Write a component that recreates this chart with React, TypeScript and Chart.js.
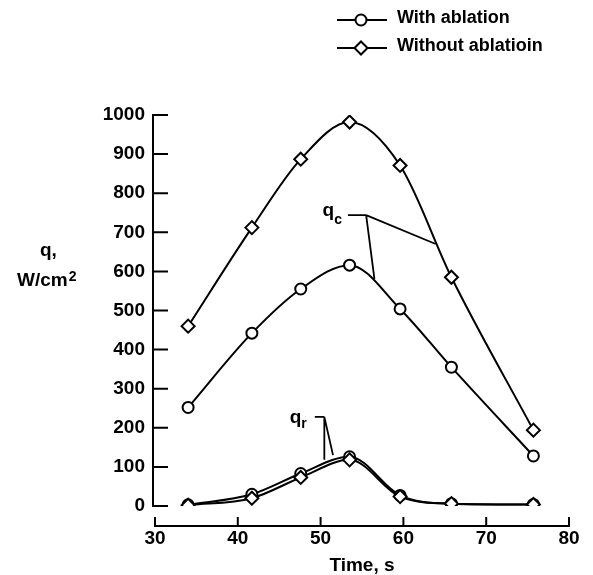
import React, { useEffect, useRef } from "react";
import { Chart, registerables } from "chart.js";

Chart.register(...registerables);

// ---- data ----
const timeS = [34, 41.7, 47.6, 53.5, 59.6, 65.8, 75.7];
const qcWithAblation = [252, 442, 555, 616, 504, 355, 128];
const qcWithoutAblation = [460, 712, 887, 982, 871, 585, 194];
const qrWithAblation = [3, 30, 83, 126, 27, 6, 4];
const qrWithoutAblation = [2, 20, 73, 118, 24, 6, 4];

const xTickValues = [30, 40, 50, 60, 70, 80];
const yTickValues = [0, 100, 200, 300, 400, 500, 600, 700, 800, 900, 1000];
const legendLabels = ["With ablation", "Without ablatioin"];
const xTitle = "Time, s";

// leader lines for the curve labels, in data coordinates
const qcLeaderStart = [53.3, 744];
const qcLeaderElbow = [55.5, 744];
const qcLeaderEnds = [[63.9, 670], [56.5, 581]];
const qrLeaderStart = [49.3, 228];
const qrLeaderElbow = [50.45, 228];
const qrLeaderEnds = [[50.45, 118], [51.5, 130]];

const FONT = "'Liberation Sans', Arial, Helvetica, sans-serif";

function pts(ys: number[]) {
  return ys.map((y, i) => ({ x: timeS[i], y }));
}

function ds(label: string, ys: number[], style: "circle" | "rectRot") {
  return {
    label,
    data: pts(ys),
    borderColor: "#000",
    borderWidth: 2,
    backgroundColor: "#fff",
    pointStyle: style,
    pointRadius: style === "circle" ? 5.5 : 6.5,
    pointBorderWidth: 2,
    pointBackgroundColor: "#fff",
    pointBorderColor: "#000",
    cubicInterpolationMode: "monotone" as const,
    fill: false,
  };
}

function drawMarker(ctx: CanvasRenderingContext2D, style: string, x: number, y: number) {
  ctx.save();
  ctx.lineWidth = 2;
  ctx.strokeStyle = "#000";
  ctx.fillStyle = "#fff";
  ctx.beginPath();
  if (style === "circle") {
    ctx.arc(x, y, 5.5, 0, Math.PI * 2);
  } else {
    const r = 6.5;
    ctx.moveTo(x - r, y);
    ctx.lineTo(x, y - r);
    ctx.lineTo(x + r, y);
    ctx.lineTo(x, y + r);
    ctx.closePath();
  }
  ctx.fill();
  ctx.stroke();
  ctx.restore();
}

function drawSubLabel(
  ctx: CanvasRenderingContext2D,
  rightX: number,
  baseY: number,
  main: string,
  sub: string,
  subDy: number
) {
  ctx.save();
  ctx.fillStyle = "#000";
  ctx.textBaseline = "alphabetic";
  ctx.textAlign = "left";
  ctx.font = `bold 19px ${FONT}`;
  const wMain = ctx.measureText(main).width;
  ctx.font = `bold 14px ${FONT}`;
  const wSub = ctx.measureText(sub).width;
  const left = rightX - wMain - wSub;
  ctx.font = `bold 19px ${FONT}`;
  ctx.fillText(main, left, baseY);
  ctx.font = `bold 14px ${FONT}`;
  ctx.fillText(sub, left + wMain, baseY + subDy);
  ctx.restore();
}

const overlayPlugin = {
  id: "overlay",
  afterDraw(chart: any) {
    const ctx: CanvasRenderingContext2D = chart.ctx;
    const xs = chart.scales.x;
    const ys = chart.scales.y;
    const px = (v: number) => xs.getPixelForValue(v);
    const py = (v: number) => ys.getPixelForValue(v);

    ctx.save();
    ctx.strokeStyle = "#000";
    ctx.lineWidth = 2;
    ctx.lineCap = "butt";

    // y axis (detached), ticks pointing inward
    const yAxisX = px(30) - 2;
    ctx.beginPath();
    ctx.moveTo(yAxisX, py(0) + 1);
    ctx.lineTo(yAxisX, py(1000) - 1);
    for (const v of yTickValues) {
      ctx.moveTo(yAxisX, py(v));
      ctx.lineTo(yAxisX + 15, py(v));
    }
    ctx.stroke();

    // x axis (detached below the plot), ticks pointing up
    const xAxisY = py(0) + 20;
    ctx.beginPath();
    ctx.moveTo(px(30) - 1, xAxisY);
    ctx.lineTo(px(80) + 1, xAxisY);
    for (const v of xTickValues) {
      ctx.moveTo(px(v), xAxisY);
      ctx.lineTo(px(v), xAxisY - 9);
    }
    ctx.stroke();

    // leader lines
    const leader = (s: number[], e: number[], ends: number[][]) => {
      ctx.beginPath();
      ctx.moveTo(px(s[0]), py(s[1]));
      ctx.lineTo(px(e[0]), py(e[1]));
      for (const en of ends) {
        ctx.moveTo(px(e[0]), py(e[1]));
        ctx.lineTo(px(en[0]), py(en[1]));
      }
      ctx.stroke();
    };
    ctx.lineWidth = 1.8;
    leader(qcLeaderStart, qcLeaderElbow, qcLeaderEnds);
    leader(qrLeaderStart, qrLeaderElbow, qrLeaderEnds);
    ctx.restore();

    drawSubLabel(ctx, px(qcLeaderStart[0]) - 6, py(qcLeaderStart[1]) + 1, "q", "c", 8);
    drawSubLabel(ctx, px(qrLeaderStart[0]) - 8, py(qrLeaderStart[1]) + 6, "q", "r", 5);

    // axis titles
    ctx.save();
    ctx.fillStyle = "#000";
    ctx.textBaseline = "alphabetic";
    ctx.font = `bold 19px ${FONT}`;
    ctx.textAlign = "center";
    ctx.fillText(xTitle, (px(30) + px(80)) / 2, 571);

    ctx.textAlign = "left";
    ctx.fillText("q,", 40, 256);
    ctx.fillText("W/cm", 17, 286);
    const wcm = ctx.measureText("W/cm").width;
    ctx.font = `bold 14px ${FONT}`;
    ctx.fillText("2", 17 + wcm + 1, 281);
    ctx.restore();

    // legend
    const rows = [
      { label: legendLabels[0], style: "circle", y: 20 },
      { label: legendLabels[1], style: "rectRot", y: 48 },
    ];
    for (const r of rows) {
      ctx.save();
      ctx.strokeStyle = "#000";
      ctx.lineWidth = 2;
      ctx.beginPath();
      ctx.moveTo(337, r.y);
      ctx.lineTo(387, r.y);
      ctx.stroke();
      ctx.restore();
      drawMarker(ctx, r.style, 361, r.y);
      ctx.save();
      ctx.fillStyle = "#000";
      ctx.font = `bold 18px ${FONT}`;
      ctx.textAlign = "left";
      ctx.textBaseline = "alphabetic";
      ctx.fillText(r.label, 397, r.y + 3);
      ctx.restore();
    }
  },
};

export default function App() {
  const ref = useRef<HTMLCanvasElement>(null);

  useEffect(() => {
    if (!ref.current) return;
    const chart = new Chart(ref.current, {
      type: "line",
      data: {
        datasets: [
          ds("qc with ablation", qcWithAblation, "circle"),
          ds("qc without ablation", qcWithoutAblation, "rectRot"),
          ds("qr without ablation", qrWithoutAblation, "rectRot"),
          ds("qr with ablation", qrWithAblation, "circle"),
        ] as any,
      },
      options: {
        animation: false,
        responsive: false,
        maintainAspectRatio: false,
        devicePixelRatio: 1,
        layout: { padding: { top: 115, right: 24, left: 0, bottom: 0 } },
        plugins: {
          legend: { display: false },
          tooltip: { enabled: false },
          title: { display: false },
        },
        scales: {
          x: {
            type: "linear",
            min: 30,
            max: 80,
            afterFit: (s: any) => {
              s.height = 69;
              s.paddingLeft = 0;
              s.paddingRight = 0;
            },
            afterBuildTicks: (s: any) => {
              s.ticks = xTickValues.map((v) => ({ value: v }));
            },
            ticks: {
              color: "#000",
              padding: 21,
              maxRotation: 0,
              callback: (v: any) => String(v),
              font: { family: FONT, size: 19, weight: "bold" },
            },
            grid: { display: false, drawTicks: false },
            border: { display: false },
          },
          y: {
            type: "linear",
            min: 0,
            max: 1000,
            afterFit: (s: any) => {
              s.width = 155;
              s.paddingTop = 0;
              s.paddingBottom = 0;
            },
            afterBuildTicks: (s: any) => {
              s.ticks = yTickValues.map((v) => ({ value: v }));
            },
            ticks: {
              color: "#000",
              padding: 10,
              callback: (v: any) => String(v),
              font: { family: FONT, size: 19, weight: "bold" },
            },
            grid: { display: false, drawTicks: false },
            border: { display: false },
          },
        },
      } as any,
      plugins: [overlayPlugin],
    });
    return () => chart.destroy();
  }, []);

  return (
    <div
      style={{
        position: "fixed",
        left: 0,
        top: 0,
        width: 593,
        height: 575,
        background: "#fff",
      }}
    >
      <canvas ref={ref} width={593} height={575} />
    </div>
  );
}
